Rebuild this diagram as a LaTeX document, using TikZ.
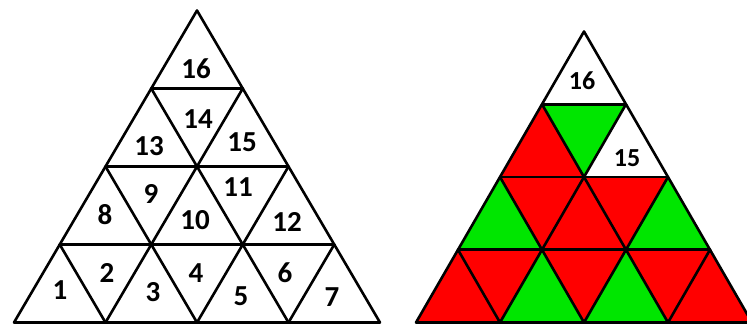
\documentclass[tikz,border=0pt]{standalone}
\usepackage{fontspec}
\setmainfont{Carlito}
\usepackage{tikz}

\definecolor{tred}{RGB}{255,0,0}
\definecolor{tgreen}{RGB}{0,230,0}

\tikzset{
  edge/.style={draw=black, line width=2.6pt, line join=round, line cap=round},
  num/.style={font=\bfseries\fontsize{29}{29}\selectfont, inner sep=0pt},
  numsmall/.style={font=\bfseries\fontsize{26}{26}\selectfont, inner sep=0pt}
}

% outline, rows and diagonals of a 4-row triangle grid
\newcommand{\trilines}{%
  \draw[edge] (-4,0) -- (4,0) -- (0,4) -- cycle;
  \foreach \j in {1,2,3} \draw[edge] (-4+\j,\j) -- (4-\j,\j);
  \foreach \q in {-2,0,2} {
    \draw[edge] (\q,0) -- ({(\q+4)/2},{(4-\q)/2});
    \draw[edge] (\q,0) -- ({(\q-4)/2},{(\q+4)/2});
  }
}

\begin{document}
\begin{tikzpicture}[x=1pt, y=-1pt]
  \clip (0,0) rectangle (747,324);
  \fill[white] (0,0) rectangle (747,324);

  % numbered triangle
  \begin{scope}[shift={(197,322.5)}, x={(45.75pt,0pt)}, y={(0pt,78pt)}]
    \trilines
  \end{scope}

  \node[num] (n1) at (60, 290) {1};
  \node[num] (n2) at (107, 273) {2};
  \node[num] (n3) at (153, 292) {3};
  \node[num] (n4) at (196, 273) {4};
  \node[num] (n5) at (241, 296) {5};
  \node[num] (n6) at (285, 273) {6};
  \node[num] (n7) at (332, 297) {7};
  \node[num] (n8) at (105, 215) {8};
  \node[num] (n9) at (151, 194) {9};
  \node[num] (n10) at (195, 220) {10};
  \node[num] (n11) at (238, 187) {11};
  \node[num] (n12) at (287, 222) {12};
  \node[num] (n13) at (149, 146) {13};
  \node[num] (n14) at (198, 119) {14};
  \node[num] (n15) at (242, 142) {15};
  \node[num] (n16) at (196, 69) {16};

  % coloured triangle
  \begin{scope}[shift={(584,322.5)}, x={(42pt,0pt)}, y={(0pt,72.75pt)}]
    \fill[tred] (-4,0) -- (4,0) -- (0,4) -- cycle;
    \foreach \j/\q in {0/-2, 0/0, 1/-3, 1/1}
      \fill[tgreen] (\q,\j) -- ++(2,0) -- ++(-1,1) -- cycle;
    \fill[tgreen] (0,2) -- (-1,3) -- (1,3) -- cycle;
    \foreach \j/\q in {2/0, 3/-1}
      \fill[white] (\q,\j) -- ++(2,0) -- ++(-1,1) -- cycle;
    \trilines
  \end{scope}

  \node[numsmall] (m16) at (582, 81) {16};
  \node[numsmall] (m15) at (627, 158) {15};
\end{tikzpicture}
\end{document}
